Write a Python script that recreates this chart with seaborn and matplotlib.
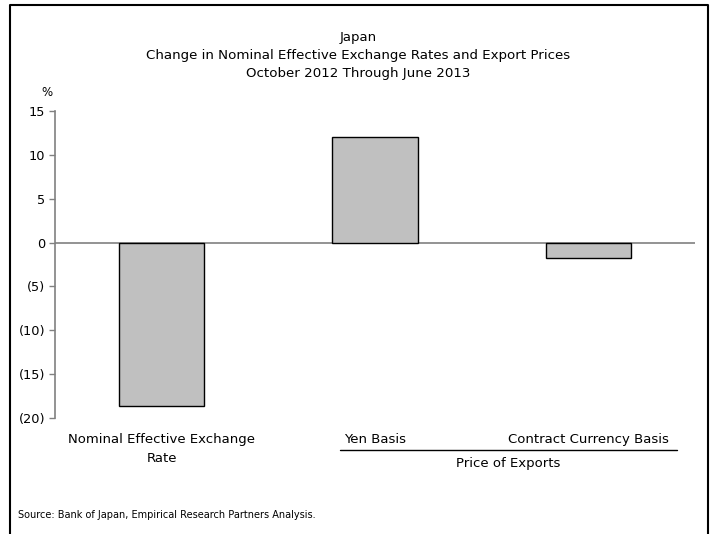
import matplotlib
matplotlib.use("Agg")
import matplotlib.pyplot as plt
from matplotlib.lines import Line2D
import seaborn as sns
import pandas as pd

categories = ["Nominal Effective Exchange\nRate", "Yen Basis", "Contract Currency Basis"]
values = [-18.6, 12.0, -1.8]
y_ticks = [15, 10, 5, 0, -5, -10, -15, -20]
y_tick_labels = ["15", "10", "5", "0", "(5)", "(10)", "(15)", "(20)"]

sns.set_theme(style="white")
plt.rcParams["font.family"] = ["DejaVu Sans"]
plt.rcParams["text.color"] = "black"

df = pd.DataFrame({"category": categories, "value": values})

fig = plt.figure(figsize=(7.13, 5.34), dpi=100)
ax = fig.add_axes([55 / 713, 1 - 418 / 534, 640 / 713, 307 / 534])

sns.barplot(data=df, x="category", y="value", color="#C0C0C0", saturation=1,
            width=0.4, edgecolor="black", linewidth=1.0, ax=ax)

ax.set_xlim(-0.5, 2.5)
ax.set_ylim(-20, 15)
ax.set_yticks(y_ticks)
ax.set_yticklabels(y_tick_labels, fontsize=9.3, color="black")
ax.set_xlabel("")
ax.set_ylabel("")
ax.tick_params(axis="y", direction="out", length=4, width=1, color="#808080",
               left=True, pad=3)
ax.tick_params(axis="x", length=0, pad=11, labelsize=9.5, labelcolor="black")
for lbl in ax.get_xticklabels():
    lbl.set_linespacing(1.6)

for side in ["top", "right", "bottom"]:
    ax.spines[side].set_visible(False)
ax.spines["left"].set_color("#808080")
ax.spines["left"].set_linewidth(1.2)
ax.axhline(0, color="#808080", linewidth=1.2, zorder=0.5)

# Group bracket under the two export-price categories
fig.add_artist(Line2D([340 / 713, 677 / 713], [1 - 450 / 534, 1 - 450 / 534],
                      color="black", linewidth=1.0))
fig.text(508 / 713, 1 - 463 / 534, "Price of Exports", ha="center", va="center",
         fontsize=9.5)

fig.text(47 / 713, 1 - 93 / 534, "%", ha="center", va="center", fontsize=8.5)

fig.text(358 / 713, 1 - 37 / 534, "Japan", ha="center", va="center", fontsize=9.5)
fig.text(358 / 713, 1 - 55 / 534,
         "Change in Nominal Effective Exchange Rates and Export Prices",
         ha="center", va="center", fontsize=9.6)
fig.text(358 / 713, 1 - 73 / 534, "October 2012 Through June 2013",
         ha="center", va="center", fontsize=9.6)

fig.text(18 / 713, 1 - 515 / 534,
         "Source: Bank of Japan, Empirical Research Partners Analysis.",
         ha="left", va="center", fontsize=7)

# Outer frame (open at the bottom)
frame_x = [10 / 713, 10 / 713, 708 / 713, 708 / 713]
frame_y = [-0.01, 1 - 5 / 534, 1 - 5 / 534, -0.01]
fig.add_artist(Line2D(frame_x, frame_y, color="black", linewidth=1.5))

fig.savefig("out.png", dpi=100)
